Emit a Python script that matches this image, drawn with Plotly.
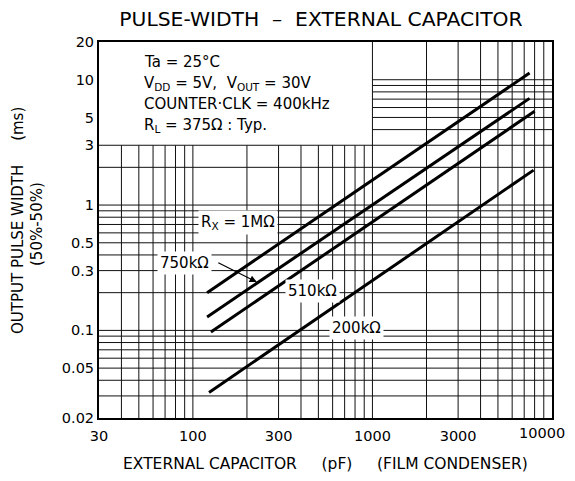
import numpy as np
import plotly.graph_objects as go

# ---- data ----
cap_1M = [120, 7500]
pw_1M = [0.20, 11.3]
cap_750k = [120, 7500]
pw_750k = [0.128, 7.1]
cap_510k = [126, 8000]
pw_510k = [0.097, 5.6]
cap_200k = [123, 7900]
pw_200k = [0.032, 1.9]

x_tick_vals = [30, 100, 300, 1000, 3000, 10000]
x_tick_text = ["30", "100", "300", "1000", "3000", "10000"]
y_tick_vals = [0.02, 0.05, 0.1, 0.3, 0.5, 1, 3, 5, 10, 20]
y_tick_text = ["0.02", "0.05", "0.1", "0.3", "0.5", "1", "3", "5", "10", "20"]

x_grid = [40, 50, 60, 70, 80, 90, 100, 200, 300, 400, 500, 600, 700, 800, 900,
          1000, 2000, 3000, 4000, 5000, 6000, 7000, 8000, 9000]
y_grid = [0.03, 0.04, 0.05, 0.06, 0.07, 0.08, 0.09, 0.1, 0.2, 0.3, 0.4, 0.5,
          0.6, 0.7, 0.8, 0.9, 1, 2, 3, 4, 5, 6, 7, 8, 9, 10]

X_MIN, X_MAX = 30, 10000
Y_MIN, Y_MAX = 0.02, 20
BOX_X, BOX_Y = 1000, 3   # blank region for the condition text (upper-left)

FONT = "DejaVu Sans"
W, H = 567, 465          # page body has an 8px margin
L, T = 91, 34
PW, PH = 453, 376

fig = go.Figure()

# grid lines (skip the upper-left text box area)
gx, gy = [], []
for v in x_grid:
    top = Y_MAX if v >= BOX_X else BOX_Y
    gx += [v, v, None]
    gy += [Y_MIN, top, None]
for v in y_grid:
    left = BOX_X if v > BOX_Y else X_MIN
    gx += [left, X_MAX, None]
    gy += [v, v, None]
fig.add_trace(go.Scatter(x=gx, y=gy, mode="lines",
                         line=dict(color="#111111", width=1),
                         hoverinfo="skip", showlegend=False))

for cx, py in [(cap_1M, pw_1M), (cap_750k, pw_750k),
               (cap_510k, pw_510k), (cap_200k, pw_200k)]:
    fig.add_trace(go.Scatter(x=cx, y=py, mode="lines",
                             line=dict(color="black", width=3),
                             showlegend=False))

lab_font = dict(family=FONT, size=15, color="black")
tick_font = dict(family=FONT, size=14.5, color="black")

def ann(x, y, text, **kw):
    fig.add_annotation(x=np.log10(x), y=np.log10(y), xref="x", yref="y",
                       text=text, font=lab_font, bgcolor="white",
                       borderpad=2, **kw)

ann(178, 0.72, "R<sub>X</sub> = 1MΩ", showarrow=False)
ann(90, 0.345, "750kΩ", showarrow=False)
ann(466, 0.206, "510kΩ", showarrow=False)
ann(820, 0.104, "200kΩ", showarrow=False)
fig.add_annotation(x=np.log10(227), y=np.log10(0.243), xref="x", yref="y",
                   ax=-40, ay=-20, text="", showarrow=True, arrowhead=2,
                   arrowsize=1.2, arrowwidth=1.2, arrowcolor="black")

# last x tick label placed right-aligned so it stays inside the page
fig.add_annotation(x=np.log10(x_tick_vals[-1]), xref="x", xanchor="right",
                   xshift=15, y=0, yref="paper", yanchor="top", yshift=-5,
                   text=x_tick_text[-1], showarrow=False, font=tick_font)
shown_x_text = x_tick_text[:-1] + [""]

# condition text (pixel positions in the reference, relative to plot top)
cond = ["Ta = 25°C",
        "V<sub>DD</sub> = 5V,  V<sub>OUT</sub> = 30V",
        "COUNTER·CLK = 400kHz",
        "R<sub>L</sub> = 375Ω : Typ."]
cond_y = [20, 41, 62, 84]
for t, yp in zip(cond, cond_y):
    fig.add_annotation(x=0, xref="paper", xanchor="left", xshift=43,
                       y=1 - yp / PH, yref="paper", yanchor="middle",
                       text=t, showarrow=False, font=lab_font)

# axis titles
ttl_font = dict(family=FONT, size=15, color="black")
fig.add_annotation(x=0, xref="paper", xshift=18 - 99, xanchor="center",
                   y=(418 - 221) / PH, yref="paper", yanchor="middle",
                   text="OUTPUT PULSE WIDTH     (ms)", textangle=-90,
                   showarrow=False, font=ttl_font)
fig.add_annotation(x=0, xref="paper", xshift=37 - 99, xanchor="center",
                   y=(418 - 224) / PH, yref="paper", yanchor="middle",
                   text="(50%-50%)", textangle=-90,
                   showarrow=False, font=ttl_font)
fig.add_annotation(x=0.5, xref="paper", y=0, yref="paper", yshift=-(464 - 418),
                   yanchor="middle",
                   text="EXTERNAL CAPACITOR     (pF)     (FILM CONDENSER)",
                   showarrow=False, font=dict(family=FONT, size=15.5, color="black"))

fig.update_layout(
    width=W, height=H,
    margin=dict(l=L, r=W - L - PW, t=T, b=H - T - PH, autoexpand=False),
    paper_bgcolor="white", plot_bgcolor="white",
    title=dict(text="PULSE-WIDTH  –  EXTERNAL CAPACITOR", x=(321 - 8) / W,
               xanchor="center", y=1 - 11 / H, yanchor="middle",
               font=dict(family=FONT, size=20.3, color="black")),
    showlegend=False,
)
fig.update_xaxes(type="log", range=[np.log10(X_MIN), np.log10(X_MAX)],
                 tickvals=x_tick_vals, ticktext=shown_x_text, showgrid=False,
                 zeroline=False, showline=True, mirror=True, linecolor="black",
                 linewidth=2, ticks="", ticklabelstandoff=4, automargin=False,
                 ticklabeloverflow="allow", tickfont=tick_font)
fig.update_yaxes(type="log", range=[np.log10(Y_MIN), np.log10(Y_MAX)],
                 tickvals=y_tick_vals, ticktext=y_tick_text, showgrid=False,
                 zeroline=False, showline=True, mirror=True, linecolor="black",
                 linewidth=2, ticks="", ticklabelstandoff=0, automargin=False,
                 ticklabeloverflow="allow", tickfont=tick_font)

fig.write_html("out.html")
